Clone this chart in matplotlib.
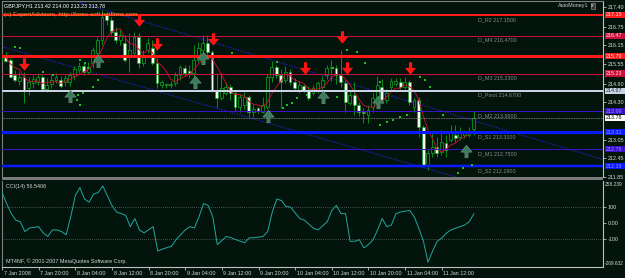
import matplotlib
matplotlib.use("Agg")
import matplotlib.pyplot as plt
from matplotlib.path import Path
from matplotlib.patches import Rectangle
import numpy as np
import pandas as pd

plt.rcParams['font.family'] = ['Liberation Sans', 'DejaVu Sans']

# ---------------- data ----------------
opens = [215.67, 215.77, 215.67, 215.18, 214.98, 215.12, 214.75, 214.92, 214.95, 215.12,
         214.72, 214.89, 215.02, 215.02, 214.95, 214.95, 215.15, 215.34, 215.48, 215.28,
         215.57, 215.90, 216.33, 217.15, 216.98, 216.59, 216.33, 216.23, 215.77, 215.90,
         216.43, 215.57, 216.00, 216.07, 215.57, 214.85, 214.85, 214.85, 214.92, 215.18,
         215.41, 215.31, 215.25, 215.67, 216.00, 216.23, 215.94, 214.69, 214.43, 214.59,
         214.79, 214.59, 214.13, 214.20, 214.46, 213.97, 214.10, 213.97, 214.13, 215.12,
         215.44, 215.18, 215.02, 215.28, 214.95, 214.69, 214.82, 214.69, 214.59, 214.69,
         214.79, 215.18, 215.41, 215.41, 215.18, 214.92, 214.26, 214.53, 214.20, 213.97,
         213.87, 214.13, 214.46, 214.79, 214.36, 214.79, 214.89, 214.95, 214.79, 214.95,
         214.13, 214.36, 213.48, 212.23, 212.62, 212.82, 212.66, 212.95, 213.05, 213.21,
         213.15, 213.21, 213.21, 213.42]
highs = [216.16, 215.94, 215.74, 215.34, 215.28, 215.28, 215.12, 215.18, 215.25, 215.18,
         215.08, 215.18, 215.25, 215.15, 215.18, 215.28, 215.48, 215.61, 215.61, 215.61,
         216.10, 216.43, 217.31, 217.25, 217.08, 216.75, 216.66, 216.49, 216.56, 216.59,
         216.56, 216.00, 216.39, 216.33, 215.74, 215.02, 214.92, 214.98, 215.28, 215.51,
         215.51, 215.51, 216.16, 216.26, 216.49, 216.49, 216.00, 215.25, 215.25, 214.95,
         214.89, 214.66, 214.56, 214.62, 214.53, 214.20, 214.13, 214.46, 215.22, 215.64,
         215.51, 215.38, 215.48, 215.38, 215.08, 214.98, 214.89, 214.82, 214.85, 214.98,
         215.15, 215.51, 215.67, 215.51, 216.00, 215.02, 214.69, 214.95, 214.30, 214.10,
         214.20, 214.59, 215.15, 215.05, 214.72, 215.08, 215.08, 215.08, 215.12, 215.02,
         214.43, 214.46, 213.54, 212.72, 213.31, 213.15, 213.38, 213.21, 213.54, 213.54,
         213.48, 213.38, 213.48, 214.00]
lows = [215.57, 215.61, 215.08, 214.95, 214.85, 214.26, 214.53, 214.75, 214.85, 214.66,
        214.62, 214.75, 214.92, 214.75, 214.82, 214.82, 215.02, 215.25, 215.18, 215.22,
        215.41, 215.67, 216.16, 216.82, 216.49, 216.23, 216.16, 215.61, 215.28, 215.77,
        215.41, 215.48, 215.90, 215.51, 214.75, 214.75, 214.75, 214.75, 214.82, 215.02,
        215.15, 215.08, 215.02, 215.61, 215.84, 215.84, 214.62, 214.13, 214.36, 214.53,
        214.36, 214.00, 213.97, 214.07, 213.80, 213.80, 213.94, 213.94, 214.07, 214.95,
        215.08, 214.10, 214.92, 214.85, 214.66, 214.59, 214.62, 214.36, 214.53, 214.59,
        214.72, 215.05, 214.98, 214.89, 214.79, 213.97, 214.20, 213.87, 213.84, 213.61,
        213.61, 213.97, 214.36, 214.26, 214.26, 214.66, 214.82, 214.72, 214.72, 214.20,
        213.97, 213.15, 212.16, 212.07, 212.49, 212.49, 212.56, 212.49, 213.00, 212.98,
        213.05, 213.12, 213.15, 213.23]
closes = [215.90, 215.64, 215.12, 215.02, 215.12, 214.69, 214.95, 215.05, 215.12, 214.72,
          214.85, 215.02, 215.12, 214.82, 215.08, 215.18, 215.38, 215.48, 215.28, 215.44,
          216.00, 216.33, 217.08, 216.98, 216.59, 216.33, 216.49, 215.67, 216.00, 216.43,
          215.57, 215.77, 216.23, 215.57, 214.92, 214.95, 214.87, 214.89, 215.18, 215.44,
          215.25, 215.25, 215.67, 216.07, 216.23, 215.94, 214.69, 214.43, 214.75, 214.79,
          214.59, 214.13, 214.46, 214.46, 213.97, 214.07, 214.00, 214.20, 215.12, 215.44,
          215.18, 214.95, 215.28, 214.95, 214.75, 214.85, 214.69, 214.43, 214.75, 214.92,
          215.02, 215.41, 215.44, 215.18, 214.95, 214.30, 214.53, 214.20, 213.97, 213.94,
          214.03, 214.43, 214.85, 214.36, 214.59, 214.98, 214.98, 214.79, 214.95, 214.30,
          214.36, 213.48, 212.23, 212.62, 212.82, 212.62, 212.98, 212.72, 213.28, 213.12,
          213.28, 213.28, 213.28, 213.78]

time_tick_bars = [0, 8, 16, 24, 32, 40, 48, 56, 64, 72, 80, 88, 96]
time_tick_labels = ["7 Jan 2008", "7 Jan 20:00", "8 Jan 04:00", "8 Jan 12:00", "8 Jan 20:00",
                    "9 Jan 04:00", "9 Jan 12:00", "9 Jan 20:00", "10 Jan 04:00", "10 Jan 12:00",
                    "10 Jan 20:00", "11 Jan 04:00", "11 Jan 12:00"]

price_scale = [217.40, 216.75, 216.15, 215.55, 214.90, 214.30, 213.05, 212.45, 211.85]

level_names = ["R2", "M4", "R1", "M3", "Pivot", "M2", "S1", "M1", "S2"]
level_values = [217.15, 216.47, 215.79, 215.23, 214.67, 213.99, 213.31, 212.75, 212.19]
level_shown = [True, True, False, True, True, True, True, True, True]

cci_bars = [0, 1, 2, 3, 4, 5, 6, 8, 9, 10, 11, 12, 13, 14, 15, 16, 17, 18, 19, 20,
            21, 22, 23, 24, 25, 27, 28, 29, 30, 31, 33, 34, 35, 37, 38, 40, 41, 42, 43, 44,
            45, 46, 47, 49, 50, 52, 53, 54, 55, 57, 58, 59, 60, 61, 62, 63, 65, 66, 68, 69,
            71, 72, 73, 74, 75, 76, 77, 78, 79, 80, 81, 82, 83, 84, 85, 86, 87, 89, 90, 91,
            92, 93, 94, 95, 96, 97, 98, 100, 101, 102, 103]
cci_values = [188, 120, 60, 18, 8, -52, -30, -22, -60, -82, -42, -42, -52, -72, 38, 168, 218, 148, 128, 178,
              188, 228, 168, 108, 68, 48, -22, 28, -42, -60, -22, -172, -160, -142, -102, -42, -22, -30, 38, 120,
              108, 40, -132, -82, -90, -112, -120, -90, -90, -82, -52, 68, 148, 138, 102, 98, 28, 18, -32, -42,
              8, 78, 108, 58, 58, -112, -112, -102, -152, -132, -102, -42, 28, -22, -12, 58, 68, 78, 38, -32,
              -112, -240, -172, -112, -92, -62, -42, -22, -12, 8, 56.5406]
cci_top, cci_bottom = 258.239, -269.632

# trend channel lines (bar, price) end points
trend1_bars = [0, 100]
trend1_prices = [216.12, 211.80]
trend2_bars = [16.0, 131.0]
trend2_prices = [217.61, 212.42]

# signal arrows (bar, price)
down_arrow_bars = [5.0, 30.1, 34.0, 46.2, 66.2, 74.3, 75.4, 89.1]
down_arrow_prices = [215.54, 216.98, 216.20, 216.36, 215.41, 216.43, 215.41, 215.41]
up_arrow_bars = [15.0, 21.1, 42.3, 44.0, 58.2, 70.2, 82.1, 101.3]
up_arrow_prices = [214.49, 215.64, 214.95, 215.74, 213.84, 214.46, 214.30, 212.69]

# scattered green dots (bar, price)
dot_bars = [3.05, 4.1, 9.2, 11.3, 17.2, 18.3, 19.0, 21.1, 20.0, 16.8, 17.9, 16.6, 17.2,
            50.3, 60.1, 72.3, 77.6, 79.3, 82.6, 75.4, 61.4, 62.3, 63.4, 64.5, 66.7, 73.2,
            82.6, 84.1, 85.4, 86.9, 88.5, 91.3, 92.4, 93.5, 96.3, 100.7, 102.6, 99.6]
dot_prices = [216.10, 216.07, 215.28, 215.18, 215.67, 215.57, 215.41, 215.02, 214.79, 214.53, 214.59, 214.36, 214.20,
              215.90, 215.61, 215.41, 215.94, 215.57, 214.95, 216.00, 214.10, 214.20, 214.26, 214.43, 214.53, 214.46,
              213.54, 213.64, 213.71, 213.80, 213.87, 215.12, 215.02, 214.79, 213.87, 212.13, 212.23, 211.97]

# ---------------- styling ----------------
W, H = 625, 278
BG = '#03140c'
WICK = '#10a020'
GRID_GRAY = '#808080'
TXT = '#d8d8d8'
FS = 3.9

level_colors = ['#ff1a1a', '#c8103a', '#ff1a1a', '#c8103a', '#c8d4e4', '#3a10c8', '#0a1aff', '#3a10c8', '#0a1aff']
level_lw_px = [2, 1, 3, 1, 2, 1, 3, 1, 2.5]
box_text_colors = ['#ffe0e0', '#ffe0e0', '#ffe0e0', '#ffe0e0', '#203040', '#9090ff', '#9090ff', '#9090ff', '#9090ff']

fig = plt.figure(figsize=(W / 100, H / 100), dpi=100)
fig.patch.set_facecolor(BG)


def px_box(l, t, r, b):
    return [l / W, 1 - b / H, (r - l) / W, (b - t) / H]


ax = fig.add_axes(px_box(2, 1, 603, 177))
axc = fig.add_axes(px_box(2, 181, 603, 267))

n = len(closes)
idx = np.arange(n)
XL = (0.22, 131.2)
YL = (211.837, 217.607)

for a in (ax, axc):
    a.set_facecolor(BG)
    a.set_xlim(*XL)
    for s in a.spines.values():
        s.set_color(GRID_GRAY)
        s.set_linewidth(0.8)

ax.set_ylim(*YL)
ax.spines['bottom'].set_visible(False)
ax.spines['right'].set_color('#c0c0c0')
axc.spines['top'].set_visible(False)
axc.spines['right'].set_color('#c0c0c0')
axc.spines['bottom'].set_color('#c0c0c0')

# separator band between panels
fig.add_artist(Rectangle((2 / W, 1 - 180 / H), 601 / W, 3 / H, transform=fig.transFigure,
                         facecolor='#7a7a7a', edgecolor='none'))

# ---------------- main panel ----------------
o = np.array(opens); c = np.array(closes); hi = np.array(highs); lo = np.array(lows)
ax.vlines(idx, lo, hi, color=WICK, lw=0.6, zorder=3)
bear = c < o
bot = np.minimum(o, c)
hgt = np.maximum(np.abs(c - o), 0.015)
ax.bar(idx[bear], hgt[bear], bottom=bot[bear], width=0.62, color='#f2fff2',
       edgecolor=WICK, linewidth=0.45, zorder=4)
ax.bar(idx[~bear], hgt[~bear], bottom=bot[~bear], width=0.62, color=BG,
       edgecolor=WICK, linewidth=0.55, zorder=4)

# moving average
ma = pd.Series(closes).rolling(5, min_periods=1).mean()
ax.plot(idx, ma, color='#c0102a', lw=0.7, zorder=5)

# trend channel
ax.plot(trend1_bars, trend1_prices, color='#2a20c8', lw=0.8, ls=(0, (1.2, 1.2)), zorder=2)
ax.plot(trend2_bars, trend2_prices, color='#2a20c8', lw=0.8, ls=(0, (1.2, 1.2)), zorder=2)

# pivot levels
for name, val, col, lwp, shown in zip(level_names, level_values, level_colors, level_lw_px, level_shown):
    ax.axhline(val, color=col, lw=lwp * 0.72, zorder=6)
    if shown:
        ax.annotate(f"D_{name} {val:.4f}", (104.0, val), xytext=(0, -3.2), textcoords='offset points',
                    color='#8a8a8a', fontsize=FS, va='center', ha='left', zorder=7)

# current price line
ax.axhline(closes[-1], color='#909090', lw=0.6, ls=(0, (1, 1)), zorder=5)

# green dots
ax.scatter(dot_bars, dot_prices, s=1.6, marker='s', color='#20c020', linewidths=0, zorder=6)

# arrows
down_path = Path([(-0.25, 1.0), (0.25, 1.0), (0.25, 0.1), (0.9, 0.1), (0.0, -1.0),
                  (-0.9, 0.1), (-0.25, 0.1), (-0.25, 1.0)],
                 [Path.MOVETO] + [Path.LINETO] * 6 + [Path.CLOSEPOLY])
up_path = Path([(-0.25, -1.0), (0.25, -1.0), (0.25, -0.1), (0.9, -0.1), (0.0, 1.0),
                (-0.9, -0.1), (-0.25, -0.1), (-0.25, -1.0)],
               [Path.MOVETO] + [Path.LINETO] * 6 + [Path.CLOSEPOLY])
ax.plot(down_arrow_bars, down_arrow_prices, ls='none', marker=down_path, markersize=9,
        color='#ff1414', markeredgewidth=0, zorder=8)
ax.plot(up_arrow_bars, up_arrow_prices, ls='none', marker=up_path, markersize=9,
        color='#3d7a5c', markeredgecolor='#6aa088', markeredgewidth=0.4, zorder=8)

# right price scale
ax.yaxis.tick_right()
ax.set_yticks(price_scale)
ax.set_yticklabels([f"{v:.2f}" for v in price_scale])
ax.tick_params(axis='y', direction='out', length=2, width=0.6, color='#c0c0c0',
               labelcolor=TXT, labelsize=FS, pad=1.2)
ax.set_xticks([])

ytr = ax.get_yaxis_transform()
box_vals = level_values + [closes[-1]]
box_cols = level_colors + ['#ffffff']
box_txt = box_text_colors + ['#000000']
for val, col, tc in zip(box_vals, box_cols, box_txt):
    ax.add_patch(Rectangle((1.003, val - 0.10), 0.04, 0.20, transform=ytr, facecolor=col,
                           edgecolor='none', clip_on=False, zorder=9))
    ax.text(1.005, val, f"{val:.2f}", transform=ytr, color=tc, fontsize=FS, va='center',
            ha='left', clip_on=False, zorder=10)

# header texts
ax.text(0.004, 0.972, f"GBPJPY,H1 {opens[-1]:.2f} {highs[-1]:.2f} {lows[-1]:.2f} {closes[-1]:.2f}",
        transform=ax.transAxes, color='#ffffff', fontsize=FS, va='center', ha='left', zorder=11)
ax.text(0.004, 0.925, "(c) ExpertAdvisors, http://forex-soft.netfirms.com",
        transform=ax.transAxes, color='#ff9a3c', fontsize=4.5, va='center', ha='left', zorder=11)
ax.text(0.925, 0.972, "AutoMoney1", transform=ax.transAxes, color='#c8c8c8', fontsize=FS,
        va='center', ha='left', zorder=11)
ax.text(0.983, 0.972, "x", transform=ax.transAxes, color='#ffffff', fontsize=FS,
        va='center', ha='center', zorder=11,
        bbox=dict(boxstyle='square,pad=0.15', fc='#303030', ec='#a0a0a0', lw=0.4))

# ---------------- CCI panel ----------------
axc.set_ylim(cci_bottom, cci_top)
for lvl in (100, -100):
    axc.axhline(lvl, color='#8a8a8a', lw=0.5, ls=(0, (1, 2)), zorder=1)
axc.plot(cci_bars, cci_values, color='#20a8a0', lw=0.7, zorder=3)

axc.yaxis.tick_right()
axc.set_yticks([100, 0, -100])
axc.set_yticklabels(["100", "0.00", "-100"])
axc.tick_params(axis='y', direction='out', length=2, width=0.6, color='#c0c0c0',
                labelcolor=TXT, labelsize=FS, pad=1.2)
axc.text(1.003, 0.955, f"{cci_top:.3f}", transform=axc.transAxes, color=TXT, fontsize=3.5,
         va='center', ha='left', clip_on=False)
axc.text(1.003, 0.035, f"{cci_bottom:.3f}", transform=axc.transAxes, color=TXT, fontsize=3.4,
         va='center', ha='left', clip_on=False)
axc.text(0.006, 0.94, f"CCI(14) {cci_values[-1]:.4f}", transform=axc.transAxes, color=TXT,
         fontsize=FS, va='center', ha='left')
axc.text(0.006, 0.07, "MT4NF, \u00a9 2001-2007 MetaQuotes Software Corp.", transform=axc.transAxes,
         color=TXT, fontsize=FS, va='center', ha='left')

# time axis
axc.set_xticks(time_tick_bars)
axc.set_xticklabels([])
axc.tick_params(axis='x', direction='out', length=2.5, width=0.6, color='#c0c0c0')
xtr = axc.get_xaxis_transform()
for b, lab in zip(time_tick_bars, time_tick_labels):
    axc.text(b + 0.35, -0.075, lab, transform=xtr, color=TXT, fontsize=FS, va='center',
             ha='left', clip_on=False)

fig.savefig("out.png", dpi=100, facecolor=BG)
